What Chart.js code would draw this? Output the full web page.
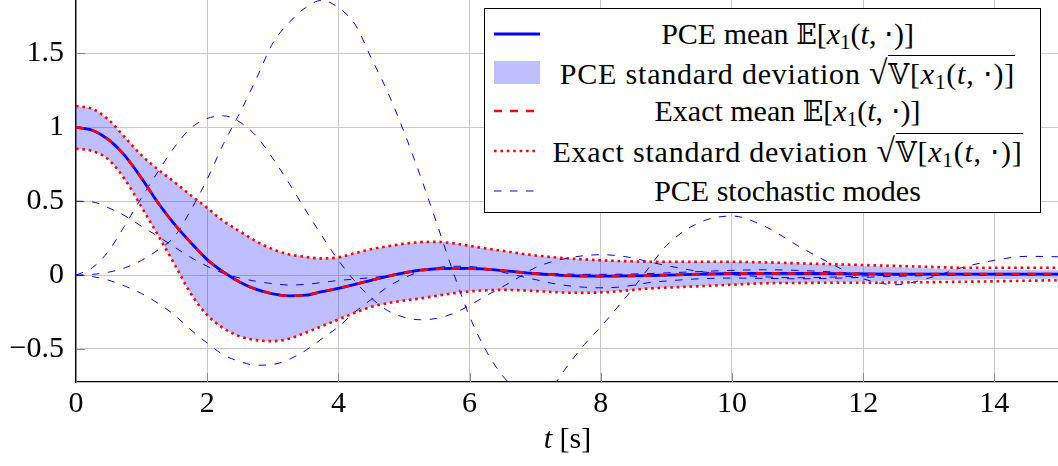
<!DOCTYPE html>
<html>
<head>
<meta charset="utf-8">
<script src="https://cdn.jsdelivr.net/npm/chart.js@4.4.1/dist/chart.umd.min.js"></script>
<style>
    html, body { margin: 0; padding: 0; background: #fff; }
    #wrap { position: relative; width: 1058px; height: 466px; font-family: 'Liberation Serif', serif; color: #000; }
    #chartBox { position: absolute; left: 0; top: 0; width: 1058px; height: 466px; }
    #legend { position: absolute; left: 484px; top: 8px; width: 557px; height: 205px; border: 1px solid #000; background: #fff; box-sizing: border-box; }
    .row { position: absolute; left: 0; right: 0; height: 38px; }
    .sym { position: absolute; left: 8px; top: 7px; }
    .txt { position: absolute; left: 56px; right: 6px; top: 0; height: 38px; line-height: 38px; text-align: center; font-size: 30px; white-space: nowrap; }
    .wide { letter-spacing: 0.8px; }
    .bb { font-family: 'DejaVu Serif', 'DejaVu Sans', serif; font-size: 0.9em; }
    .txt sub { font-size: 0.7em; vertical-align: -0.22em; line-height: 0; }
    .rad { border-top: 1.5px solid #000; padding-top: 1px; }
    .sq { font-size: 1.12em; }
    #xTitle { position: absolute; left: 0; width: 1135px; top: 419px; text-align: center; font-size: 30px; line-height: 38px; }
</style>
</head>
<body>
<div id="wrap">
    <div id="chartBox"><canvas id="mainChart"></canvas></div>
    <div id="legend">
        <div class="row" style="top:6px">
            <svg class="sym" width="50" height="24"><line x1="1" y1="12" x2="47" y2="12" stroke="#0000ff" stroke-width="2.8"/></svg>
            <div class="txt">PCE mean <span class="bb">𝔼</span>[<i>x</i><sub>1</sub>(<i>t</i>, ⋅)]</div>
        </div>
        <div class="row" style="top:45px">
            <svg class="sym" width="50" height="24"><rect x="1" y="0" width="46" height="23" fill="rgba(0,0,255,0.25)"/></svg>
            <div class="txt wide">PCE standard deviation <span class="sq">√</span><span class="rad"><span class="bb">𝕍</span>[<i>x</i><sub>1</sub>(<i>t</i>, ⋅)]</span></div>
        </div>
        <div class="row" style="top:83px">
            <svg class="sym" width="50" height="24"><line x1="1" y1="12" x2="41" y2="12" stroke="#ff0000" stroke-width="2.6" stroke-dasharray="8 8"/></svg>
            <div class="txt">Exact mean <span class="bb">𝔼</span>[<i>x</i><sub>1</sub>(<i>t</i>, ⋅)]</div>
        </div>
        <div class="row" style="top:123px">
            <svg class="sym" width="50" height="24"><line x1="1" y1="12" x2="44" y2="12" stroke="#ff0000" stroke-width="2.6" stroke-dasharray="2.6 3.8"/></svg>
            <div class="txt wide">Exact standard deviation <span class="sq">√</span><span class="rad"><span class="bb">𝕍</span>[<i>x</i><sub>1</sub>(<i>t</i>, ⋅)]</span></div>
        </div>
        <div class="row" style="top:163px">
            <svg class="sym" width="50" height="24"><line x1="1" y1="12" x2="41" y2="12" stroke="#0000ff" stroke-width="1" stroke-dasharray="7.5 8.5"/></svg>
            <div class="txt">PCE stochastic modes</div>
        </div>
    </div>
    <div id="xTitle"><i>t</i> [s]</div>
</div>
<script>
// time grid [s]
const tVals = [0, 0.25, 0.5, 0.75, 1, 1.25, 1.5, 1.75, 2, 2.25, 2.5, 2.75, 3, 3.25, 3.5, 3.75, 4, 4.25, 4.5, 4.75,
    5, 5.25, 5.5, 5.75, 6, 6.25, 6.5, 6.75, 7, 7.25, 7.5, 7.75, 8, 8.25, 8.5, 8.75, 9,
    9.5, 10, 10.5, 11, 11.5, 12, 12.5, 13, 13.5, 14, 14.5, 15];

// mean of x1 (PCE and exact coincide)
const meanVals = [1.0, 0.98, 0.915, 0.805, 0.655, 0.49, 0.345, 0.22, 0.105, 0.02, -0.048, -0.097, -0.127, -0.14, -0.136, -0.112, -0.09, -0.063, -0.035, -0.008,
    0.015, 0.033, 0.043, 0.046, 0.045, 0.04, 0.031, 0.02, 0.01, 0.003, -0.003, -0.006, -0.007, -0.006, -0.005, -0.003, 0.0,
    0.006, 0.011, 0.012, 0.011, 0.01, 0.008, 0.007, 0.007, 0.007, 0.007, 0.007, 0.007];

// mean +/- standard deviation, exact
const exactUpper = [1.145, 1.125, 1.05, 0.93, 0.81, 0.715, 0.63, 0.54, 0.455, 0.365, 0.295, 0.228, 0.175, 0.14, 0.123, 0.113, 0.12, 0.148, 0.175, 0.195,
    0.212, 0.223, 0.225, 0.215, 0.198, 0.18, 0.165, 0.148, 0.133, 0.122, 0.113, 0.106, 0.1, 0.096, 0.093, 0.09, 0.09,
    0.09, 0.09, 0.086, 0.08, 0.074, 0.068, 0.062, 0.056, 0.05, 0.05, 0.05, 0.05];
const exactLower = [0.856, 0.84, 0.78, 0.645, 0.46, 0.27, 0.075, -0.125, -0.27, -0.36, -0.415, -0.44, -0.447, -0.43, -0.39, -0.345, -0.3, -0.255, -0.215, -0.19,
    -0.172, -0.158, -0.14, -0.123, -0.11, -0.103, -0.1, -0.102, -0.108, -0.114, -0.119, -0.12, -0.117, -0.11, -0.1, -0.09, -0.085,
    -0.075, -0.065, -0.055, -0.053, -0.052, -0.052, -0.05, -0.048, -0.045, -0.042, -0.038, -0.034];

// mean +/- standard deviation, PCE
const pceUpper = [1.145, 1.125, 1.05, 0.93, 0.81, 0.715, 0.63, 0.54, 0.455, 0.365, 0.295, 0.228, 0.175, 0.14, 0.123, 0.113, 0.12, 0.148, 0.175, 0.195,
    0.212, 0.223, 0.225, 0.215, 0.198, 0.18, 0.165, 0.148, 0.133, 0.122, 0.113, 0.106, 0.1, 0.096, 0.093, 0.09, 0.09,
    0.09, 0.09, 0.086, 0.078, 0.07, 0.062, 0.054, 0.047, 0.041, 0.037, 0.034, 0.032];
const pceLower = [0.856, 0.84, 0.78, 0.645, 0.46, 0.27, 0.075, -0.125, -0.27, -0.36, -0.415, -0.44, -0.447, -0.43, -0.39, -0.345, -0.3, -0.255, -0.215, -0.19,
    -0.172, -0.158, -0.14, -0.123, -0.11, -0.103, -0.1, -0.102, -0.108, -0.114, -0.119, -0.12, -0.117, -0.11, -0.1, -0.09, -0.085,
    -0.075, -0.065, -0.055, -0.051, -0.048, -0.045, -0.04, -0.035, -0.031, -0.028, -0.025, -0.022];

// PCE stochastic modes
const modeA = [0.5, 0.495, 0.455, 0.4, 0.33, 0.262, 0.19, 0.12, 0.06, 0.012, -0.02, -0.042, -0.058, -0.067, -0.063, -0.05, -0.036, -0.027, -0.017, -0.005,
    0.012, 0.028, 0.037, 0.04, 0.038, 0.034, 0.028, 0.022, 0.016, 0.011, 0.007, 0.005, 0.005, 0.006, 0.008, 0.011, 0.015,
    0.024, 0.032, 0.036, 0.032, 0.022, 0.012, 0.007, 0.005, 0.005, 0.005, 0.005, 0.005];
const modeB = [0, 0.05, 0.165, 0.34, 0.525, 0.7, 0.865, 0.995, 1.06, 1.078, 1.035, 0.94, 0.79, 0.62, 0.44, 0.265, 0.1, -0.04, -0.155, -0.24,
    -0.285, -0.302, -0.293, -0.26, -0.205, -0.14, -0.08, -0.015, 0.05, 0.09, 0.115, 0.132, 0.138, 0.132, 0.115, 0.088, 0.065,
    0.025, 0.004, -0.012, -0.018, -0.014, -0.006, 0.0, 0.004, 0.005, 0.005, 0.004, 0.004];
const modeC = [0, 0.005, 0.02, 0.05, 0.1, 0.17, 0.26, 0.44, 0.65, 0.89, 1.1, 1.33, 1.57, 1.71, 1.81, 1.86, 1.81, 1.7, 1.47, 1.24,
    0.97, 0.67, 0.35, 0.02, -0.28, -0.51, -0.68, -0.78, -0.83, -0.76, -0.61, -0.47, -0.35, -0.22, -0.085, 0.06, 0.2,
    0.355, 0.4, 0.33, 0.2, 0.08, -0.025, -0.065, -0.02, 0.05, 0.1, 0.127, 0.124];
const modeD = [0, -0.01, -0.035, -0.075, -0.125, -0.19, -0.27, -0.37, -0.46, -0.54, -0.585, -0.61, -0.605, -0.57, -0.51, -0.43, -0.35, -0.25, -0.165, -0.08,
    -0.02, 0.025, 0.05, 0.06, 0.058, 0.045, 0.02, -0.005, -0.03, -0.055, -0.072, -0.082, -0.086, -0.082, -0.068, -0.05, -0.04,
    -0.025, -0.02, -0.022, -0.025, -0.022, -0.015, -0.008, -0.004, 0, 0, 0, 0];

const xTicks = [0, 2, 4, 6, 8, 10, 12, 14];
const yTicks = [-0.5, 0, 0.5, 1, 1.5];

const serif = "'Liberation Serif', serif";

function points(arr) {
    return tVals.map((t, i) => ({ x: t, y: arr[i] }));
}

// short inward tick marks like pgfplots
const innerTicks = {
    id: 'innerTicks',
    beforeDatasetsDraw(chart) {
        const { ctx, chartArea, scales } = chart;
        ctx.save();
        ctx.strokeStyle = '#8a8a8a';
        ctx.lineWidth = 1;
        ctx.beginPath();
        xTicks.forEach(v => {
            const px = Math.round(scales.x.getPixelForValue(v)) + 0.5;
            ctx.moveTo(px, chartArea.bottom);
            ctx.lineTo(px, chartArea.bottom - 9);
        });
        yTicks.forEach(v => {
            const py = Math.round(scales.y.getPixelForValue(v)) + 0.5;
            ctx.moveTo(chartArea.left, py);
            ctx.lineTo(chartArea.left + 9, py);
        });
        ctx.stroke();
        ctx.restore();
    }
};

const modeStyle = {
    borderColor: '#0000ff',
    borderWidth: 1,
    borderDash: [7.5, 8.5],
    fill: false
};

// first dataset is drawn on top
const mainChart = new Chart(document.getElementById('mainChart'), {
    type: 'line',
    data: {
        datasets: [
            { label: 'Exact std upper', data: points(exactUpper), borderColor: '#ff0000', borderWidth: 2.6, borderDash: [2.6, 3.8], fill: false },
            { label: 'Exact std lower', data: points(exactLower), borderColor: '#ff0000', borderWidth: 2.6, borderDash: [2.6, 3.8], fill: false },
            { label: 'Exact mean', data: points(meanVals), borderColor: '#ff0000', borderWidth: 2.6, borderDash: [8, 8], fill: false },
            { label: 'PCE mean', data: points(meanVals), borderColor: '#0000ff', borderWidth: 2.8, fill: false },
            Object.assign({ label: 'Mode 1', data: points(modeA) }, modeStyle),
            Object.assign({ label: 'Mode 2', data: points(modeB) }, modeStyle),
            Object.assign({ label: 'Mode 3', data: points(modeC) }, modeStyle),
            Object.assign({ label: 'Mode 4', data: points(modeD) }, modeStyle),
            { label: 'PCE std upper', data: points(pceUpper), borderWidth: 0, borderColor: 'rgba(0,0,0,0)', backgroundColor: 'rgba(0,0,255,0.25)', fill: '+1' },
            { label: 'PCE std lower', data: points(pceLower), borderWidth: 0, borderColor: 'rgba(0,0,0,0)', fill: false }
        ]
    },
    options: {
        responsive: true,
        maintainAspectRatio: false,
        animation: false,
        devicePixelRatio: 1,
        layout: { padding: 0 },
        elements: {
            point: { radius: 0 },
            line: { cubicInterpolationMode: 'monotone' }
        },
        plugins: {
            legend: { display: false },
            tooltip: { enabled: false }
        },
        scales: {
            x: {
                type: 'linear',
                min: 0,
                max: 14.97,
                afterBuildTicks: s => { s.ticks = xTicks.map(v => ({ value: v })); },
                afterFit: s => { s.height = 84; s.paddingLeft = 0; s.paddingRight = 0; },
                grid: { color: '#c8c8c8', lineWidth: 1, drawTicks: false },
                border: { display: true, color: '#000', width: 1.3 },
                ticks: {
                    color: '#000',
                    font: { family: serif, size: 30 },
                    padding: 4,
                    maxRotation: 0,
                    autoSkip: false,
                    callback: v => String(v)
                }
            },
            y: {
                type: 'linear',
                min: -0.7235,
                max: 1.862,
                afterBuildTicks: s => { s.ticks = yTicks.map(v => ({ value: v })); },
                afterFit: s => { s.width = 76; s.paddingTop = 0; s.paddingBottom = 0; },
                grid: { color: '#c8c8c8', lineWidth: 1, drawTicks: false },
                border: { display: true, color: '#000', width: 1.3 },
                ticks: {
                    color: '#000',
                    font: { family: serif, size: 30 },
                    padding: 12,
                    callback: v => v < 0 ? '\u2212' + Math.abs(v) : String(v)
                }
            }
        }
    },
    plugins: [innerTicks]
});
</script>
</body>
</html>
